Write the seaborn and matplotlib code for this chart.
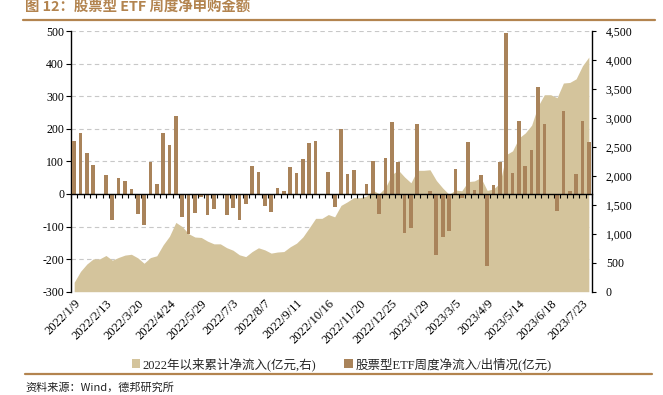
import numpy as np
import pandas as pd
import matplotlib
matplotlib.use("Agg")
import matplotlib.pyplot as plt
import seaborn as sns
from matplotlib.ticker import FuncFormatter, FixedLocator
from matplotlib.patches import Patch
from matplotlib.lines import Line2D

# ---------------- data ----------------
weekly_flow = [163, 188, 127, 88, 0, 59, -81, 48, 40, 14,
               -61, -94, 98, 31, 188, 150, 238, -72, -122, -58,
               -8, -64, -46, 0, -66, -44, -79, -32, 87, 66,
               -36, -56, 19, 8, 82, 63, 108, 157, 163, 0,
               66, -40, 198, 62, 72, -3, 30, 101, -62, 111,
               220, 99, -120, -106, 215, 0, 10, -186, -132, -113,
               75, -13, 158, 12, 58, -222, 26, 99, 493, 65,
               223, 86, 135, 328, 216, 0, -52, 254, 10, 62,
               225, 160]

cumulative_flow = [163, 351, 478, 566, 566, 625, 544, 592, 632, 646,
                   585, 491, 589, 620, 808, 958, 1196, 1124, 1002, 944,
                   936, 872, 826, 826, 760, 716, 637, 605, 692, 758,
                   722, 666, 685, 693, 775, 838, 946, 1103, 1266, 1266,
                   1332, 1292, 1490, 1552, 1624, 1621, 1651, 1752, 1690, 1801,
                   2021, 2100, 1980, 1880, 2095, 2095, 2105, 1920, 1790, 1680,
                   1755, 1742, 1900, 1912, 1970, 1748, 1774, 1873, 2366, 2431,
                   2654, 2740, 2875, 3203, 3400, 3400, 3348, 3602, 3612, 3674,
                   3899, 4050]

tick_labels = ["2022/1/9", "2022/2/13", "2022/3/20", "2022/4/24", "2022/5/29",
               "2022/7/3", "2022/8/7", "2022/9/11", "2022/10/16", "2022/11/20",
               "2022/12/25", "2023/1/29", "2023/3/5", "2023/4/9", "2023/5/14",
               "2023/6/18", "2023/7/23"]
label_step = 5

left_ticks = [-300, -200, -100, 0, 100, 200, 300, 400, 500]
right_ticks = [0, 500, 1000, 1500, 2000, 2500, 3000, 3500, 4000, 4500]

title_text = "图 12：股票型 ETF 周度净申购金额"
legend_area = "2022年以来累计净流入(亿元,右)"
legend_bar = "股票型ETF周度净流入/出情况(亿元)"
source_text = "资料来源：Wind，德邦研究所"

# ---------------- style ----------------
sns.set_theme(style="white")
plt.rcParams["font.family"] = ["Liberation Serif", "Noto Sans CJK SC", "DejaVu Sans"]
plt.rcParams["axes.unicode_minus"] = False

BAR = "#A9835A"
AREA = "#D4C49C"
ACCENT = "#B3844F"
GRID = "#C8C8C8"

W, H = 663, 395
fig = plt.figure(figsize=(W / 100, H / 100), dpi=100)
fig.patch.set_facecolor("white")

ax = fig.add_axes([71 / W, 1 - 291.7 / H, 521 / W, 260.7 / H])
ax2 = ax.twinx()
ax3 = ax.twinx()

n = len(weekly_flow)
df = pd.DataFrame({"week": np.arange(n), "flow": weekly_flow, "cum": cumulative_flow})

# cumulative area on the right axis
ax2.fill_between(df["week"], 0, df["cum"], color=AREA, linewidth=0)
ax2.set_ylim(right_ticks[0], right_ticks[-1])

# weekly bars on the left scale (top layer)
sns.barplot(data=df, x="week", y="flow", ax=ax3, color=BAR, saturation=1,
            width=0.58, errorbar=None, linewidth=0, edgecolor=BAR)
ax3.set_ylim(left_ticks[0], left_ticks[-1])
ax3.set_xlabel("")
ax3.set_ylabel("")
ax3.yaxis.set_visible(False)
ax3.xaxis.set_visible(True)
for s in ["left", "right", "top"]:
    ax3.spines[s].set_visible(False)
ax3.spines["bottom"].set_position(("data", 0))
ax3.spines["bottom"].set_color("black")
ax3.spines["bottom"].set_linewidth(1.0)
ax3.axhline(left_ticks[0], color=GRID, linestyle=(0, (4, 3)), linewidth=0.8, zorder=0.5)

# shared x ticks: labels every 5 weeks, category boundary ticks on zero line
ax.set_xlim(-0.5, n - 0.5)
label_pos = df["week"].values[::label_step][:len(tick_labels)]
ax.set_xticks(label_pos)
ax.set_xticklabels(tick_labels, rotation=45, ha="right", rotation_mode="anchor",
                   fontsize=9, family=["Liberation Serif"])
ax.xaxis.set_minor_locator(FixedLocator(np.arange(n + 1) - 0.5))
ax.tick_params(axis="x", which="both", bottom=False, length=0, pad=4, colors="black")
ax3.tick_params(axis="x", which="major", bottom=False, labelbottom=False, length=0)
ax3.tick_params(axis="x", which="minor", bottom=True, length=3, width=0.8,
                direction="out", color="black")

# left axis
ax.set_ylim(left_ticks[0], left_ticks[-1])
ax.set_yticks(left_ticks)
ax.tick_params(axis="y", left=True, length=3.5, width=0.8, direction="out",
               labelsize=8.5, pad=1.5, colors="black")
ax.yaxis.grid(True, linestyle=(0, (4, 3)), color=GRID, linewidth=0.8)
ax.xaxis.grid(False)
for s in ["top", "right", "bottom"]:
    ax.spines[s].set_visible(False)
ax.spines["left"].set_color("black")
ax.spines["left"].set_linewidth(1.0)

# right axis
ax2.set_yticks(right_ticks)
ax2.yaxis.set_major_formatter(FuncFormatter(lambda v, p: f"{v:,.0f}"))
ax2.tick_params(axis="y", right=True, length=3, width=0.8, direction="out",
                labelsize=8.5, pad=7, colors="black")
for s in ["top", "left", "bottom"]:
    ax2.spines[s].set_visible(False)
ax2.spines["right"].set_color("black")
ax2.spines["right"].set_linewidth(1.0)
ax2.set_ylabel("")

# title, rules, legend, source
fig.text(25 / W, 1 - 7.5 / H, title_text, color=ACCENT, fontsize=10.4, fontweight="bold",
         ha="left", va="center", family=["Noto Sans CJK SC", "DejaVu Sans"])
fig.add_artist(Line2D([23 / W, 655 / W], [1 - 20 / H, 1 - 20 / H], color=ACCENT,
                      linewidth=1.6, transform=fig.transFigure))
fig.add_artist(Line2D([25 / W, 652 / W], [1 - 374 / H, 1 - 374 / H], color=ACCENT,
                      linewidth=1.6, transform=fig.transFigure))

handles = [Patch(facecolor=AREA, edgecolor="none", label=legend_area),
           Patch(facecolor=BAR, edgecolor="none", label=legend_bar)]
fig.legend(handles=handles, loc="center", bbox_to_anchor=(0.515, 1 - 364 / H), ncol=2,
           frameon=False, handlelength=0.7, handleheight=0.7,
           handletextpad=0.2, columnspacing=2.2,
           prop={"family": ["Liberation Serif", "Noto Sans CJK SC"], "size": 9})

fig.text(25 / W, 1 - 387 / H, source_text, fontsize=8, color="#222222",
         ha="left", va="center", family=["Noto Sans CJK SC", "DejaVu Sans"])

fig.savefig("out.png", dpi=100, facecolor="white")
